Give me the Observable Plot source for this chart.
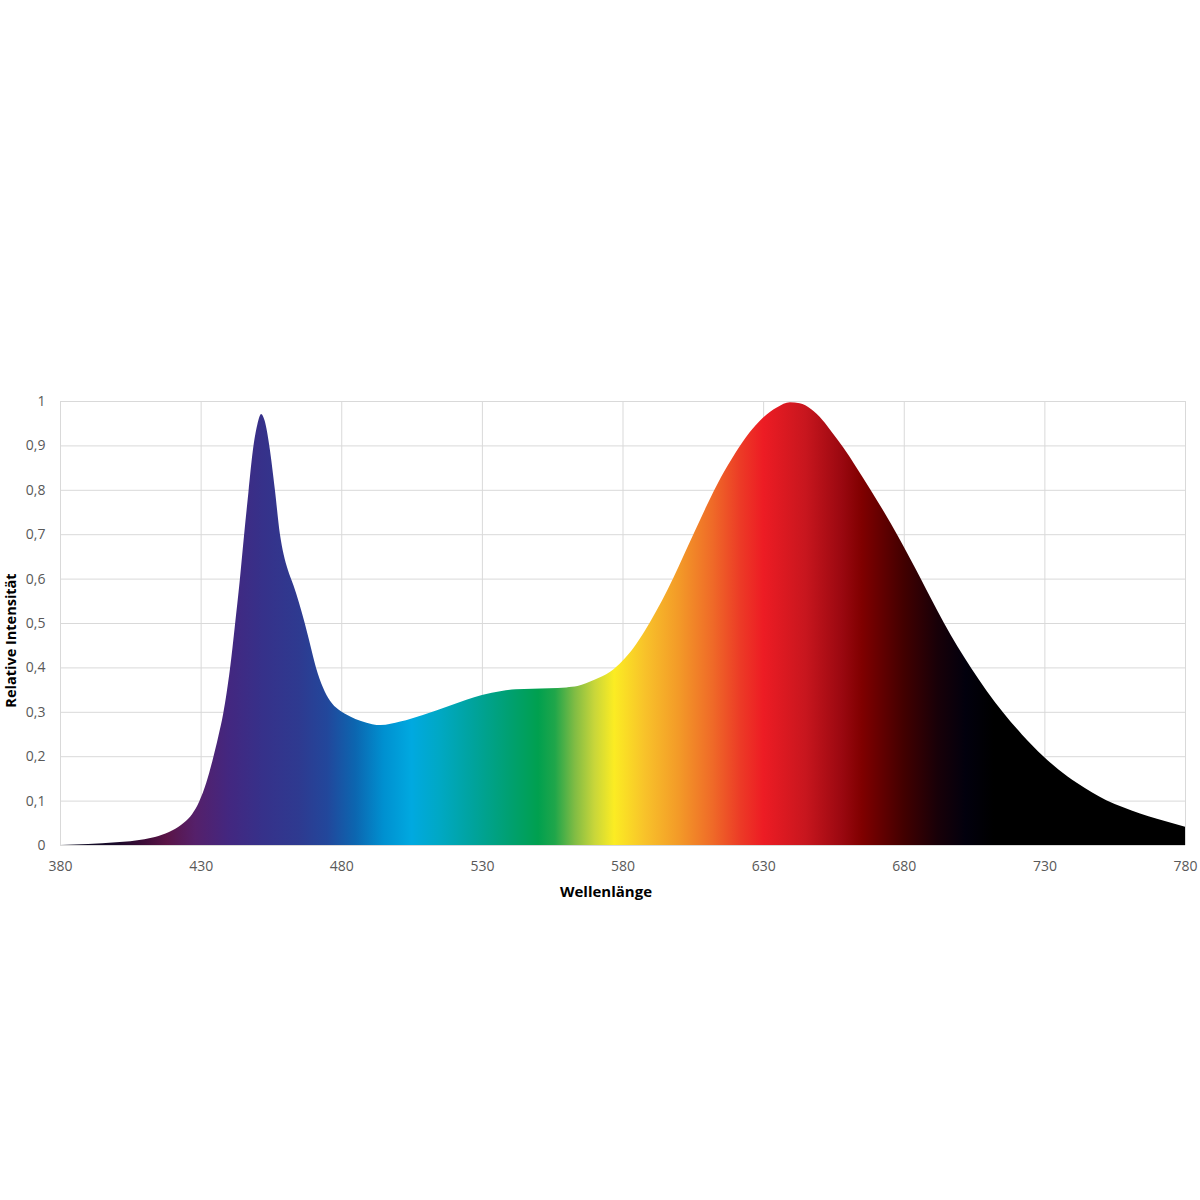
<!DOCTYPE html>
<html>
<head>
<meta charset="utf-8">
<script src="https://cdn.jsdelivr.net/npm/d3@7"></script>
<script src="https://cdn.jsdelivr.net/npm/@observablehq/plot@0.6"></script>
<style>
  html, body { margin: 0; padding: 0; background: #ffffff; }
  #chart { width: 1200px; height: 1200px; }
</style>
</head>
<body>
<div id="chart"></div>
<script>
// Wavelength (nm) samples of the spectrum
const wavelengths = [380, 390, 400, 410, 415, 420, 424, 427, 429.5, 432, 434.2, 436.3, 438, 439.3, 440.4, 442.2, 443.9, 445.4, 447, 448.7, 450.2, 451.5, 452.8, 454.4, 456.4, 458.2, 459.5, 461, 463, 465, 467, 469, 471, 473.5, 476, 479, 483, 487, 491, 494, 501, 509, 519, 530, 537, 542, 548, 554, 560, 564, 570, 575.6, 580, 584, 588, 592, 596, 600, 605, 610, 615, 620, 625, 630, 635, 639.5, 643, 647, 651, 655, 658.5, 663, 668, 673, 678, 682, 686, 690, 694.3, 699, 704, 709.5, 715.4, 722, 729.6, 735, 741.5, 747, 752, 758, 764, 770, 775, 780];
// Relative intensity at each wavelength
const intensities = [0.000, 0.002, 0.006, 0.013, 0.020, 0.033, 0.050, 0.070, 0.098, 0.140, 0.190, 0.245, 0.295, 0.345, 0.395, 0.495, 0.595, 0.695, 0.795, 0.895, 0.948, 0.971, 0.955, 0.900, 0.800, 0.700, 0.655, 0.620, 0.585, 0.545, 0.500, 0.450, 0.400, 0.355, 0.325, 0.305, 0.290, 0.279, 0.272, 0.270, 0.278, 0.293, 0.315, 0.338, 0.347, 0.351, 0.352, 0.353, 0.355, 0.358, 0.372, 0.390, 0.415, 0.445, 0.483, 0.527, 0.575, 0.628, 0.697, 0.765, 0.828, 0.882, 0.928, 0.963, 0.986, 0.997, 0.995, 0.982, 0.958, 0.925, 0.895, 0.852, 0.802, 0.750, 0.695, 0.648, 0.600, 0.551, 0.500, 0.448, 0.398, 0.347, 0.298, 0.249, 0.200, 0.170, 0.140, 0.118, 0.101, 0.085, 0.071, 0.059, 0.050, 0.041];

// Tick values
const xTicks = [380, 430, 480, 530, 580, 630, 680, 730, 780];
const yTicks = [0, 0.1, 0.2, 0.3, 0.4, 0.5, 0.6, 0.7, 0.8, 0.9, 1];

// Spectrum colour stops (wavelength -> colour)
const stopWavelengths = [380, 400, 410, 418, 428, 440, 452, 465, 475, 485, 495, 505, 515, 527, 540, 550, 556, 563, 570, 577, 588, 600, 612, 622, 630, 645, 658, 665, 680, 692, 702, 712, 780];
const stopColors = ["#0d0d26", "#1a0a2a", "#3e0c38", "#5a1447", "#55206a", "#432780", "#36318a", "#2e3a90", "#22479b", "#0c66b0", "#0090d0", "#00a9e0", "#00a8c4", "#00a39c", "#00a070", "#00a04f", "#20a64a", "#80bc44", "#c8d63a", "#fbec23", "#f8c22a", "#f39a28", "#ef6a28", "#ec3a26", "#ed1c24", "#c8161e", "#9a0810", "#800000", "#420000", "#180008", "#02000d", "#000000", "#000000"];

const xLabel = "Wellenlänge";
const yLabel = "Relative Intensität";

const data = wavelengths.map((w, i) => ({w, v: intensities[i]}));
const stops = stopWavelengths.map((w, i) => ({w, c: stopColors[i]}));

const gridColor = "#d9d9d9";
const tickColor = "#595959";

// Gradient definition built from the x scale
function gradientDefs(index, scales) {
  const x0 = scales.x(380), x1 = scales.x(780);
  const defs = d3.create("svg:defs");
  const g = defs.append("linearGradient")
    .attr("id", "spec")
    .attr("gradientUnits", "userSpaceOnUse")
    .attr("x1", x0).attr("x2", x1).attr("y1", 0).attr("y2", 0);
  for (const s of stops) {
    g.append("stop")
      .attr("offset", (scales.x(s.w) - x0) / (x1 - x0))
      .attr("stop-color", s.c);
  }
  return defs.node();
}

const chart = Plot.plot({
  width: 1200,
  height: 1200,
  marginTop: 401,
  marginBottom: 355,
  marginLeft: 60,
  marginRight: 15,
  style: {fontFamily: "'Open Sans', sans-serif", fontSize: "14px", background: "#ffffff", color: tickColor},
  x: {domain: [380, 780]},
  y: {domain: [0, 1]},
  marks: [
    gradientDefs,
    Plot.gridX(xTicks, {stroke: gridColor, strokeOpacity: 1, strokeWidth: 1}),
    Plot.gridY(yTicks, {stroke: gridColor, strokeOpacity: 1, strokeWidth: 1}),
    Plot.areaY(data, {x: "w", y: "v", fill: "url(#spec)", curve: "monotone-x"}),
    Plot.ruleY([0], {stroke: gridColor, strokeWidth: 1}),
    Plot.axisX(xTicks, {tickSize: 0, tickPadding: 16, label: null, fill: tickColor, fontSize: 14}),
    Plot.axisY(yTicks, {tickSize: 0, tickPadding: 15, label: null, fill: tickColor, fontSize: 14,
      tickFormat: d => String(d).replace(".", ",")}),
    Plot.text([xLabel], {frameAnchor: "bottom", dy: 51, dx: -17, fontWeight: "bold", fontSize: 15, fill: "#000000"}),
    Plot.text([yLabel], {frameAnchor: "left", textAnchor: "middle", rotate: -90, dx: -49, dy: 17, fontWeight: "bold", fontSize: 14.5, fill: "#000000"})
  ]
});

document.getElementById("chart").appendChild(chart);
</script>
</body>
</html>
